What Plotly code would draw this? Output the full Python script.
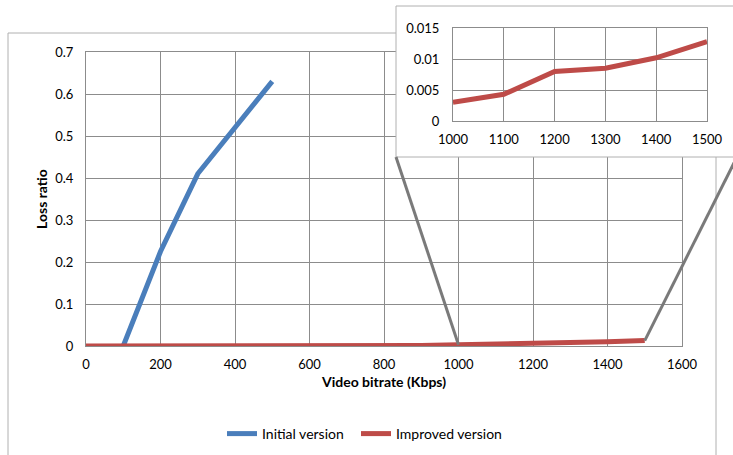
import plotly.graph_objects as go

# Loss ratio vs video bitrate (Kbps)
initial_bitrate = [100, 200, 300, 400, 500]
initial_loss = [0, 0.225, 0.41, 0.52, 0.63]

improved_bitrate = [0, 100, 200, 300, 400, 500, 600, 700, 800, 900,
                    1000, 1100, 1200, 1300, 1400, 1500]
improved_loss = [0, 0, 0, 0, 0, 0, 0, 0.0005, 0.0008, 0.001,
                 0.003, 0.0043, 0.008, 0.0085, 0.0102, 0.0128]

# the inset zooms in on 1000-1500 Kbps
zoom_bitrate = improved_bitrate[10:]
zoom_loss = improved_loss[10:]

W, H = 733, 455
BLUE = '#4a7ebb'
RED = '#be4b48'
GRID = '#8c8c8c'
BORDER = '#b0b0b0'
FONT = 'Lato'


def px_x(p):
    return p / W


def px_y(p):
    return 1 - p / H


# domains in paper coords
main_x_dom = [px_x(86), px_x(682)]
main_y_dom = [px_y(346), px_y(52)]
main_x_rng = [0, 1600]
main_y_rng = [0, 0.7]

box_left, box_right, box_top, box_bottom = 396, 737, 6, 157
inset_x_dom = [px_x(453), px_x(707)]
inset_y_dom = [px_y(121), px_y(28)]


def to_paper(dom, rng, v):
    return dom[0] + (v - rng[0]) / (rng[1] - rng[0]) * (dom[1] - dom[0])


fig = go.Figure()

fig.add_trace(go.Scatter(x=initial_bitrate, y=initial_loss, mode='lines',
                         name='Initial version', legend='legend',
                         line=dict(color=BLUE, width=5)))
fig.add_trace(go.Scatter(x=improved_bitrate, y=improved_loss, mode='lines',
                         name='Improved version', legend='legend2',
                         line=dict(color=RED, width=5)))
# empty trace that only creates the white cover behind the inset
fig.add_trace(go.Scatter(x=[None], y=[None], xaxis='x2', yaxis='y2',
                         showlegend=False, hoverinfo='skip'))
# inset
fig.add_trace(go.Scatter(x=zoom_bitrate, y=zoom_loss, mode='lines',
                         xaxis='x3', yaxis='y3', showlegend=False,
                         line=dict(color=RED, width=5)))

tick_font = dict(family=FONT, size=13, color='black')
title_font = dict(family=FONT, size=14, color='black', weight='bold')

axis_common = dict(showgrid=True, gridcolor=GRID, gridwidth=1, zeroline=False,
                   showline=True, mirror=True, linecolor=GRID, linewidth=1,
                   ticks='', tickfont=tick_font, automargin=False)

# connector lines from the inset box down to the zoomed part
x1000 = to_paper(main_x_dom, main_x_rng, zoom_bitrate[0])
y1000 = to_paper(main_y_dom, main_y_rng, zoom_loss[0])
x1500 = to_paper(main_x_dom, main_x_rng, zoom_bitrate[-1])
y1500 = to_paper(main_y_dom, main_y_rng, zoom_loss[-1])

shapes = [
    # outer chart border
    dict(type='rect', xref='paper', yref='paper', x0=px_x(8), x1=px_x(716),
         y0=-0.2, y1=px_y(33), line=dict(color=BORDER, width=1), layer='below'),
    # inset border
    dict(type='rect', xref='paper', yref='paper', x0=px_x(box_left), x1=px_x(box_right),
         y0=px_y(box_bottom), y1=px_y(box_top), line=dict(color=BORDER, width=1), layer='above'),
    dict(type='line', xref='paper', yref='paper', x0=px_x(box_left), y0=px_y(box_bottom),
         x1=x1000, y1=y1000, line=dict(color='#7a7a7a', width=3), layer='above'),
    dict(type='line', xref='paper', yref='paper', x0=px_x(box_right), y0=px_y(box_bottom),
         x1=x1500, y1=y1500, line=dict(color='#7a7a7a', width=3), layer='above'),
]

legend_common = dict(orientation='h', xanchor='left', y=px_y(434), yanchor='middle',
                     font=dict(family=FONT, size=14, color='black'),
                     bgcolor='rgba(0,0,0,0)')

fig.update_layout(
    width=W, height=H,
    margin=dict(l=0, r=0, t=0, b=0, autoexpand=False),
    paper_bgcolor='white', plot_bgcolor='white',
    font=dict(family=FONT, size=13, color='black'),
    xaxis=dict(axis_common, domain=main_x_dom, range=main_x_rng, dtick=200,
               ticklabelstandoff=6,
               title=dict(text='Video bitrate (Kbps)', font=title_font, standoff=6)),
    yaxis=dict(axis_common, domain=main_y_dom, range=main_y_rng, dtick=0.1,
               ticklabelstandoff=9,
               title=dict(text='Loss ratio', font=title_font, standoff=4)),
    xaxis2=dict(domain=[px_x(box_left), 1], anchor='y2', visible=False, range=[0, 1]),
    yaxis2=dict(domain=[px_y(box_bottom), px_y(box_top)], anchor='x2', visible=False, range=[0, 1]),
    xaxis3=dict(axis_common, domain=inset_x_dom, anchor='y3', range=[1000, 1500], dtick=100,
                ticklabelstandoff=6),
    yaxis3=dict(axis_common, domain=inset_y_dom, anchor='x3', range=[0, 0.015], dtick=0.005,
                ticklabelstandoff=10),
    shapes=shapes,
    showlegend=True,
    legend=dict(legend_common, x=px_x(222)),
    legend2=dict(legend_common, x=px_x(356)),
)

# the page body has a default 8px margin; drop it so the figure sits at the corner
fig.write_html("out.html", config={'displayModeBar': False},
               post_script="document.body.style.margin = '0';")
